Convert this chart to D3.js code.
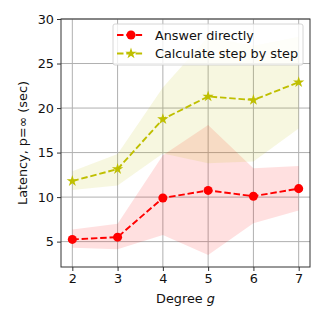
<!DOCTYPE html>
<html><head><meta charset="utf-8">
<script src="https://cdn.jsdelivr.net/npm/d3@7"></script>
<style>body{margin:0;background:#fff}svg{display:block}text{font-family:"DejaVu Sans",sans-serif}</style>
</head><body><svg id="c" width="324" height="324"></svg>
<script>
const degrees = [2, 3, 4, 5, 6, 7];
const directMean = [5.25, 5.5, 9.9, 10.75, 10.1, 10.95];
const directLow = [4.3, 4.15, 5.75, 3.5, 7.05, 8.5];
const directHigh = [6.35, 7.0, 14.7, 18.1, 13.25, 13.5];
const stepMean = [11.8, 13.15, 18.75, 21.3, 20.9, 22.9];
const stepLow = [10.8, 11.3, 14.9, 13.8, 14.0, 17.7];
const stepHigh = [12.9, 14.85, 22.3, 28.0, 27.0, 28.0];
const yTicks = [5, 10, 15, 20, 25, 30];
const seriesNames = ["Answer directly", "Calculate step by step"];

const FS = 12.8;
const svg = d3.select("#c");
const L = 61, R = 310, T = 19, B = 267;
const x = d3.scaleLinear().domain([1.75, 7.25]).range([L, R]);
const y = d3.scaleLinear().domain([2.15, 30]).range([B, T]);

// grid
const g = svg.append("g");
g.selectAll(".gx").data(degrees).enter().append("line")
  .attr("x1", d => x(d)).attr("x2", d => x(d)).attr("y1", T).attr("y2", B)
  .attr("stroke", "#b0b0b0").attr("stroke-width", 1);
g.selectAll(".gy").data(yTicks).enter().append("line")
  .attr("y1", d => y(d)).attr("y2", d => y(d)).attr("x1", L).attr("x2", R)
  .attr("stroke", "#b0b0b0").attr("stroke-width", 1);

svg.append("clipPath").attr("id", "clp").append("rect")
  .attr("x", L).attr("y", T).attr("width", R - L).attr("height", B - T);

function band(lo, hi, color) {
  const area = d3.area().x((d, i) => x(degrees[i])).y0((d, i) => y(lo[i])).y1((d, i) => y(hi[i]));
  svg.append("path").datum(degrees).attr("d", area).attr("fill", color)
    .attr("fill-opacity", 0.12).attr("clip-path", "url(#clp)");
}
band(directLow, directHigh, "#ff0000");
band(stepLow, stepHigh, "#bfbf00");

const line = d3.line().x((d, i) => x(degrees[i])).y(d => y(d));
function series(vals, color, marker) {
  svg.append("path").datum(vals).attr("d", line).attr("fill", "none")
    .attr("stroke", color).attr("stroke-width", 1.9).attr("stroke-dasharray", "6.5,2.8");
  const sym = marker === "circle" ? d3.symbol(d3.symbolCircle, 64) : d3.symbol(d3.symbolStar, 40);
  svg.selectAll(null).data(vals).enter().append("path")
    .attr("d", sym).attr("transform", (d, i) => `translate(${x(degrees[i])},${y(d)})`)
    .attr("fill", color);
}
series(directMean, "#ff0000", "circle");
series(stepMean, "#bfbf00", "star");

// spines
svg.append("rect").attr("x", L).attr("y", T).attr("width", R - L).attr("height", B - T)
  .attr("fill", "none").attr("stroke", "#333").attr("stroke-width", 1);

// axes
const xa = svg.append("g").attr("transform", `translate(0,${B})`)
  .call(d3.axisBottom(x).tickValues(degrees).tickSize(4).tickPadding(3).tickFormat(d3.format("d")));
const ya = svg.append("g").attr("transform", `translate(${L},0)`)
  .call(d3.axisLeft(y).tickValues(yTicks).tickSize(4).tickPadding(3).tickFormat(d3.format("d")));
[xa, ya].forEach(a => {
  a.select(".domain").remove();
  a.selectAll("line").attr("stroke", "#333");
  a.selectAll("text").attr("font-size", FS).attr("fill", "#111").attr("font-family", "DejaVu Sans");
});

// labels
svg.append("text").attr("x", (L + R) / 2).attr("y", 303).attr("text-anchor", "middle")
  .attr("font-size", FS).attr("fill", "#111")
  .html('Degree <tspan font-style="italic">g</tspan>');
svg.append("text").attr("transform", `translate(27,${(T + B) / 2}) rotate(-90)`)
  .attr("text-anchor", "middle").attr("font-size", FS).attr("fill", "#111")
  .text("Latency, p=∞ (sec)");

// legend
const lg = svg.append("g");
lg.append("rect").attr("x", 113).attr("y", 24).attr("width", 190).attr("height", 41).attr("rx", 2)
  .attr("fill", "#fff").attr("fill-opacity", 0.8).attr("stroke", "#ccc").attr("stroke-width", 0.8);
const colors = ["#ff0000", "#bfbf00"];
seriesNames.forEach((name, i) => {
  const yy = 35 + i * 18.5;
  lg.append("line").attr("x1", 117).attr("x2", 144).attr("y1", yy).attr("y2", yy)
    .attr("stroke", colors[i]).attr("stroke-width", 1.9).attr("stroke-dasharray", "6.5,2.8");
  const sym = i === 0 ? d3.symbol(d3.symbolCircle, 64) : d3.symbol(d3.symbolStar, 40);
  lg.append("path").attr("d", sym).attr("transform", `translate(131,${yy})`).attr("fill", colors[i]);
  lg.append("text").attr("x", 155).attr("y", yy + 4.5).attr("font-size", FS).attr("fill", "#111").text(name);
});
</script></body></html>
